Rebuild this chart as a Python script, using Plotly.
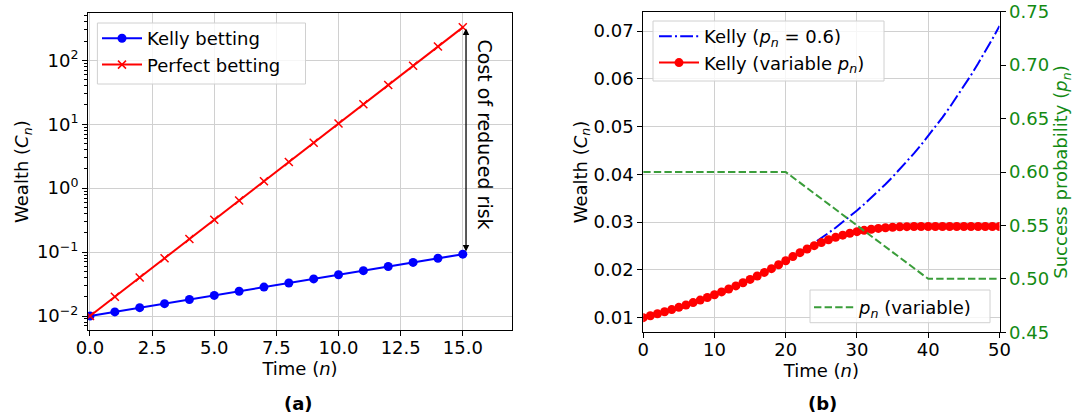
import math
import plotly.graph_objects as go

# ---- Panel (a) data ----
n_a = list(range(16))
kelly_a = [0.0100, 0.0116, 0.0135, 0.0156, 0.0181, 0.0210, 0.0244, 0.0283,
           0.0328, 0.0380, 0.0441, 0.0512, 0.0594, 0.0689, 0.0799, 0.0927]
perfect_a = [0.01, 0.02, 0.04, 0.08, 0.16, 0.32, 0.64, 1.28, 2.56, 5.12,
             10.24, 20.48, 40.96, 81.92, 163.84, 327.68]
a_xticks = [0, 2.5, 5, 7.5, 10, 12.5, 15]
a_yticks = [0.01, 0.1, 1, 10, 100]
a_yticktext = ["10<sup>−2</sup>", "10<sup>−1</sup>", "10<sup>0</sup>", "10<sup>1</sup>", "10<sup>2</sup>"]

# ---- Panel (b) data ----
n_b = list(range(51))
kelly_fixed = [0.010000, 0.010400, 0.010816, 0.011249, 0.011699, 0.012167, 0.012653, 0.013159,
               0.013686, 0.014233, 0.014802, 0.015395, 0.016010, 0.016651, 0.017317, 0.018009,
               0.018730, 0.019479, 0.020258, 0.021068, 0.021911, 0.022788, 0.023699, 0.024647,
               0.025633, 0.026658, 0.027725, 0.028834, 0.029987, 0.031187, 0.032434, 0.033731,
               0.035081, 0.036484, 0.037943, 0.039461, 0.041039, 0.042681, 0.044388, 0.046164,
               0.048010, 0.049931, 0.051928, 0.054005, 0.056165, 0.058412, 0.060748, 0.063178,
               0.065705, 0.068333, 0.071067]
kelly_var = [0.010000, 0.010400, 0.010816, 0.011249, 0.011699, 0.012167, 0.012653, 0.013159,
             0.013686, 0.014233, 0.014802, 0.015395, 0.016010, 0.016651, 0.017317, 0.018009,
             0.018730, 0.019479, 0.020258, 0.021068, 0.021911, 0.022788, 0.023611, 0.024376,
             0.025080, 0.025722, 0.026301, 0.026816, 0.027269, 0.027662, 0.027997, 0.028277,
             0.028506, 0.028688, 0.028829, 0.028933, 0.029005, 0.029051, 0.029077, 0.029089,
             0.029092, 0.029092, 0.029092, 0.029092, 0.029092, 0.029092, 0.029092, 0.029092,
             0.029092, 0.029092, 0.029092]
p_n_x = [0, 20, 40, 50]
p_n_y = [0.60, 0.60, 0.50, 0.50]

FONT = "DejaVu Sans"
FS = 18
GREEN_LINE = "#3a9d3a"
GREEN_TXT = "#138a13"
W, H = 1085, 414


def px_x(p):
    return p / W


def px_y(p):
    return 1 - p / H


fig = go.Figure()

# Panel (a)
fig.add_trace(go.Scatter(x=n_a, y=kelly_a, mode="lines+markers", name="Kelly betting",
                         line=dict(color="blue", width=2), marker=dict(symbol="circle", size=9, color="blue"),
                         xaxis="x", yaxis="y", legend="legend"))
fig.add_trace(go.Scatter(x=n_a, y=perfect_a, mode="lines+markers", name="Perfect betting",
                         line=dict(color="red", width=2),
                         marker=dict(symbol="x-thin", size=8, line=dict(color="red", width=1.5), color="red"),
                         xaxis="x", yaxis="y", legend="legend"))

# Panel (b)
fig.add_trace(go.Scatter(x=n_b, y=kelly_fixed, mode="lines", name="Kelly (<i>p<sub>n</sub></i> = 0.6)",
                         line=dict(color="blue", width=2, dash="12.8px,3.2px,2px,3.2px"),
                         xaxis="x2", yaxis="y2", legend="legend2"))
fig.add_trace(go.Scatter(x=n_b, y=kelly_var, mode="lines+markers", name="Kelly (variable <i>p<sub>n</sub></i>)",
                         line=dict(color="red", width=2), marker=dict(symbol="circle", size=9, color="red"),
                         xaxis="x2", yaxis="y2", legend="legend2"))
fig.add_trace(go.Scatter(x=p_n_x, y=p_n_y, mode="lines", name="<i>p<sub>n</sub></i> (variable)",
                         line=dict(color=GREEN_LINE, width=2, dash="7.4px,3.2px"),
                         xaxis="x2", yaxis="y3", legend="legend3"))

axis_common = dict(showline=True, linecolor="black", linewidth=1, mirror=True,
                   ticks="outside", ticklen=5, tickcolor="black", automargin=False,
                   showgrid=True, gridcolor="#d0d0d0", gridwidth=1,
                   tickfont=dict(family=FONT, size=FS, color="black"), zeroline=False)
xaxis_common = dict(axis_common, ticklabelstandoff=-4)

minor_vals = []
for e in [0.001, 0.01, 0.1, 1, 10, 100]:
    for k in range(2, 10):
        minor_vals.append(k * e)

legend_common = dict(xanchor="left", yanchor="top", bgcolor="rgba(0,0,0,0)", borderwidth=0,
                     font=dict(family=FONT, size=FS), itemwidth=40, tracegroupgap=0)

fig.update_layout(
    width=W, height=H,
    margin=dict(l=0, r=0, t=0, b=0, autoexpand=False),
    paper_bgcolor="white", plot_bgcolor="white",
    font=dict(family=FONT, size=FS, color="black"),
    xaxis=dict(domain=[px_x(88), px_x(512)], anchor="y", range=[-0.08, 16.98],
               tickvals=a_xticks, tickformat=".1f",
               title=dict(text="Time (<i>n</i>)", font=dict(size=FS), standoff=4), **xaxis_common),
    yaxis=dict(domain=[px_y(330), px_y(13.3)], anchor="x", type="log", range=[-2.219, 2.735],
               tickvals=a_yticks, ticktext=a_yticktext,
               minor=dict(tickvals=minor_vals, ticks="outside", ticklen=3, tickcolor="black", showgrid=False),
               title=dict(text="Wealth (<i>C<sub>n</sub></i>)", font=dict(size=FS), standoff=3), **axis_common),
    xaxis2=dict(domain=[px_x(643.2), px_x(999.5)], anchor="y2", range=[0, 50], dtick=10,
                title=dict(text="Time (<i>n</i>)", font=dict(size=FS), standoff=4), **xaxis_common),
    yaxis2=dict(domain=[px_y(332.3), px_y(11.7)], anchor="x2", range=[0.00694, 0.07404], dtick=0.01, tickformat=".2f",
                title=dict(text="Wealth (<i>C<sub>n</sub></i>)", font=dict(size=FS), standoff=1), **axis_common),
    yaxis3=dict(overlaying="y2", side="right", anchor="x2", range=[0.45, 0.75], dtick=0.05, tickformat=".2f",
                showgrid=False, showline=False, zeroline=False, ticks="outside", ticklen=5, tickcolor="black",
                automargin=False,
                tickfont=dict(family=FONT, size=FS, color=GREEN_TXT),
                title=dict(text="Success probability (<i>p<sub>n</sub></i>)", font=dict(size=FS, color=GREEN_TXT), standoff=6)),
    legend=dict(x=px_x(97), y=px_y(20), **legend_common),
    legend2=dict(x=px_x(654), y=px_y(18), **legend_common),
    legend3=dict(x=px_x(809), y=px_y(289), **legend_common),
    showlegend=True,
)

# Legend frames (light grey, semi-transparent white) drawn as shapes
for (x0, y0, x1, y1) in [(97.4, 23, 305.5, 84), (653, 21, 884, 81), (810, 290, 990, 322.7)]:
    fig.add_shape(type="rect", xref="paper", yref="paper", x0=px_x(x0), x1=px_x(x1), y0=px_y(y1), y1=px_y(y0),
                  line=dict(color="#d0d0d0", width=1), fillcolor="rgba(255,255,255,0.8)", layer="above")

# Double-headed arrow and label in panel (a) (log axis: annotation coords in log10)
fig.add_annotation(x=15.13, y=math.log10(perfect_a[-1]) - 0.02, ax=15.13, ay=math.log10(kelly_a[-1]) + 0.02,
                   xref="x", yref="y", axref="x", ayref="y", showarrow=True, arrowhead=2, arrowside="end+start",
                   arrowsize=1, arrowwidth=1.3, arrowcolor="black", text="")
fig.add_annotation(x=15.9, y=0.836, xref="x", yref="y", text="Cost of reduced risk", showarrow=False,
                   textangle=90, font=dict(family=FONT, size=19, color="black"))

# Captions
fig.add_annotation(x=px_x(298), y=px_y(403.3), xref="paper", yref="paper", text="<b>(a)</b>",
                   xanchor="center", yanchor="middle", showarrow=False, font=dict(family=FONT, size=FS))
fig.add_annotation(x=px_x(822.7), y=px_y(403.3), xref="paper", yref="paper", text="<b>(b)</b>",
                   xanchor="center", yanchor="middle", showarrow=False, font=dict(family=FONT, size=FS))

fig.write_html("out.html", config={"displayModeBar": False},
               post_script="document.body.style.margin='0';document.body.style.padding='0';")
